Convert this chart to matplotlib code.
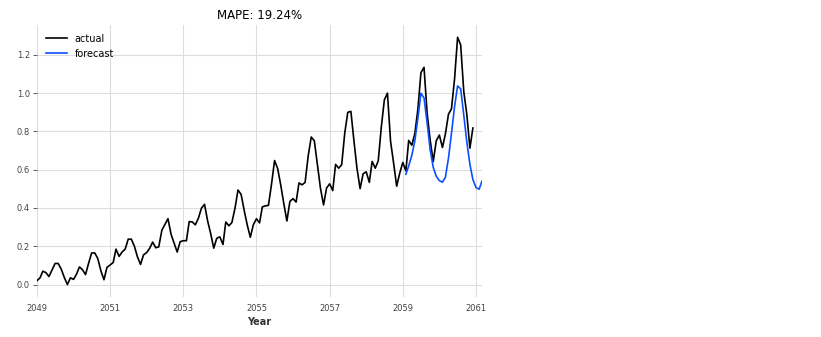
import numpy as np
import pandas as pd
import matplotlib
matplotlib.use("Agg")
import matplotlib.pyplot as plt
import matplotlib.dates as mdates

# Monthly passenger counts, min-max scaled on the training window
actual_values = [
    0.020, 0.035, 0.070, 0.062, 0.042, 0.077, 0.110, 0.110, 0.080, 0.037, 0.000, 0.035,
    0.027, 0.055, 0.092, 0.077, 0.052, 0.112, 0.165, 0.165, 0.135, 0.072, 0.025, 0.090,
    0.102, 0.115, 0.185, 0.147, 0.170, 0.185, 0.237, 0.237, 0.200, 0.145, 0.105, 0.155,
    0.167, 0.190, 0.222, 0.192, 0.197, 0.284, 0.314, 0.344, 0.262, 0.217, 0.170, 0.224,
    0.229, 0.229, 0.329, 0.327, 0.312, 0.347, 0.399, 0.419, 0.332, 0.267, 0.190, 0.242,
    0.249, 0.209, 0.327, 0.307, 0.324, 0.399, 0.494, 0.471, 0.387, 0.312, 0.247, 0.312,
    0.344, 0.322, 0.406, 0.411, 0.414, 0.526, 0.648, 0.606, 0.519, 0.424, 0.332, 0.434,
    0.449, 0.431, 0.531, 0.521, 0.534, 0.673, 0.771, 0.751, 0.626, 0.504, 0.416, 0.504,
    0.526, 0.491, 0.628, 0.608, 0.626, 0.793, 0.900, 0.905, 0.748, 0.606, 0.501, 0.579,
    0.589, 0.534, 0.643, 0.608, 0.646, 0.825, 0.965, 1.000, 0.748, 0.636, 0.514, 0.581,
    0.638, 0.594, 0.753, 0.728, 0.788, 0.918, 1.107, 1.135, 0.895, 0.756, 0.643, 0.751,
    0.781, 0.716, 0.786, 0.890, 0.918, 1.075, 1.292, 1.252, 1.007, 0.890, 0.713, 0.818,
]
actual_start = "2049-01-01"

forecast_values = [
    0.576, 0.620, 0.675, 0.750, 0.870, 1.000, 0.975, 0.845, 0.705, 0.612,
    0.566, 0.543, 0.535, 0.560, 0.660, 0.790, 0.930, 1.038, 1.022, 0.885,
    0.745, 0.628, 0.548, 0.507, 0.498, 0.540,
]
forecast_start = "2059-02-01"

tick_years = [2049, 2051, 2053, 2055, 2057, 2059, 2061]
y_ticks = [0.0, 0.2, 0.4, 0.6, 0.8, 1.0, 1.2]

mape = 19.24

actual_idx = pd.date_range(actual_start, periods=len(actual_values), freq="MS")
forecast_idx = pd.date_range(forecast_start, periods=len(forecast_values), freq="MS")

fig = plt.figure(figsize=(8.21, 3.37), dpi=100)
ax = fig.add_axes([0.045, 0.119, 0.542, 0.807])

ax.plot(actual_idx, actual_values, color="black", lw=1.2, label="actual")
ax.plot(forecast_idx, forecast_values, color="#0b4fff", lw=1.2, label="forecast")

ax.set_xlim(actual_idx[0], forecast_idx[-1])
ax.margins(y=0.05)

tick_dates = [pd.Timestamp(year=y, month=1, day=1) for y in tick_years]
ax.set_xticks(tick_dates)
ax.xaxis.set_major_formatter(mdates.DateFormatter("%Y"))
ax.set_yticks(y_ticks)

ax.grid(True, color="#dddddd", lw=0.8)
ax.set_axisbelow(True)
for s in ax.spines.values():
    s.set_visible(False)
ax.tick_params(axis="both", labelsize=6, colors="#444444", length=3, width=0.6,
               pad=2)
ax.tick_params(axis="x", length=0, pad=5)

ax.set_xlabel("Year", fontsize=7, fontweight="bold", color="#333333", labelpad=3)
ax.set_title(f"MAPE: {mape:.2f}%", fontsize=8.5, pad=4)

leg = ax.legend(loc="upper left", frameon=False, fontsize=7, handlelength=2.2,
                borderaxespad=0.5)

fig.savefig("out.png", dpi=100)
